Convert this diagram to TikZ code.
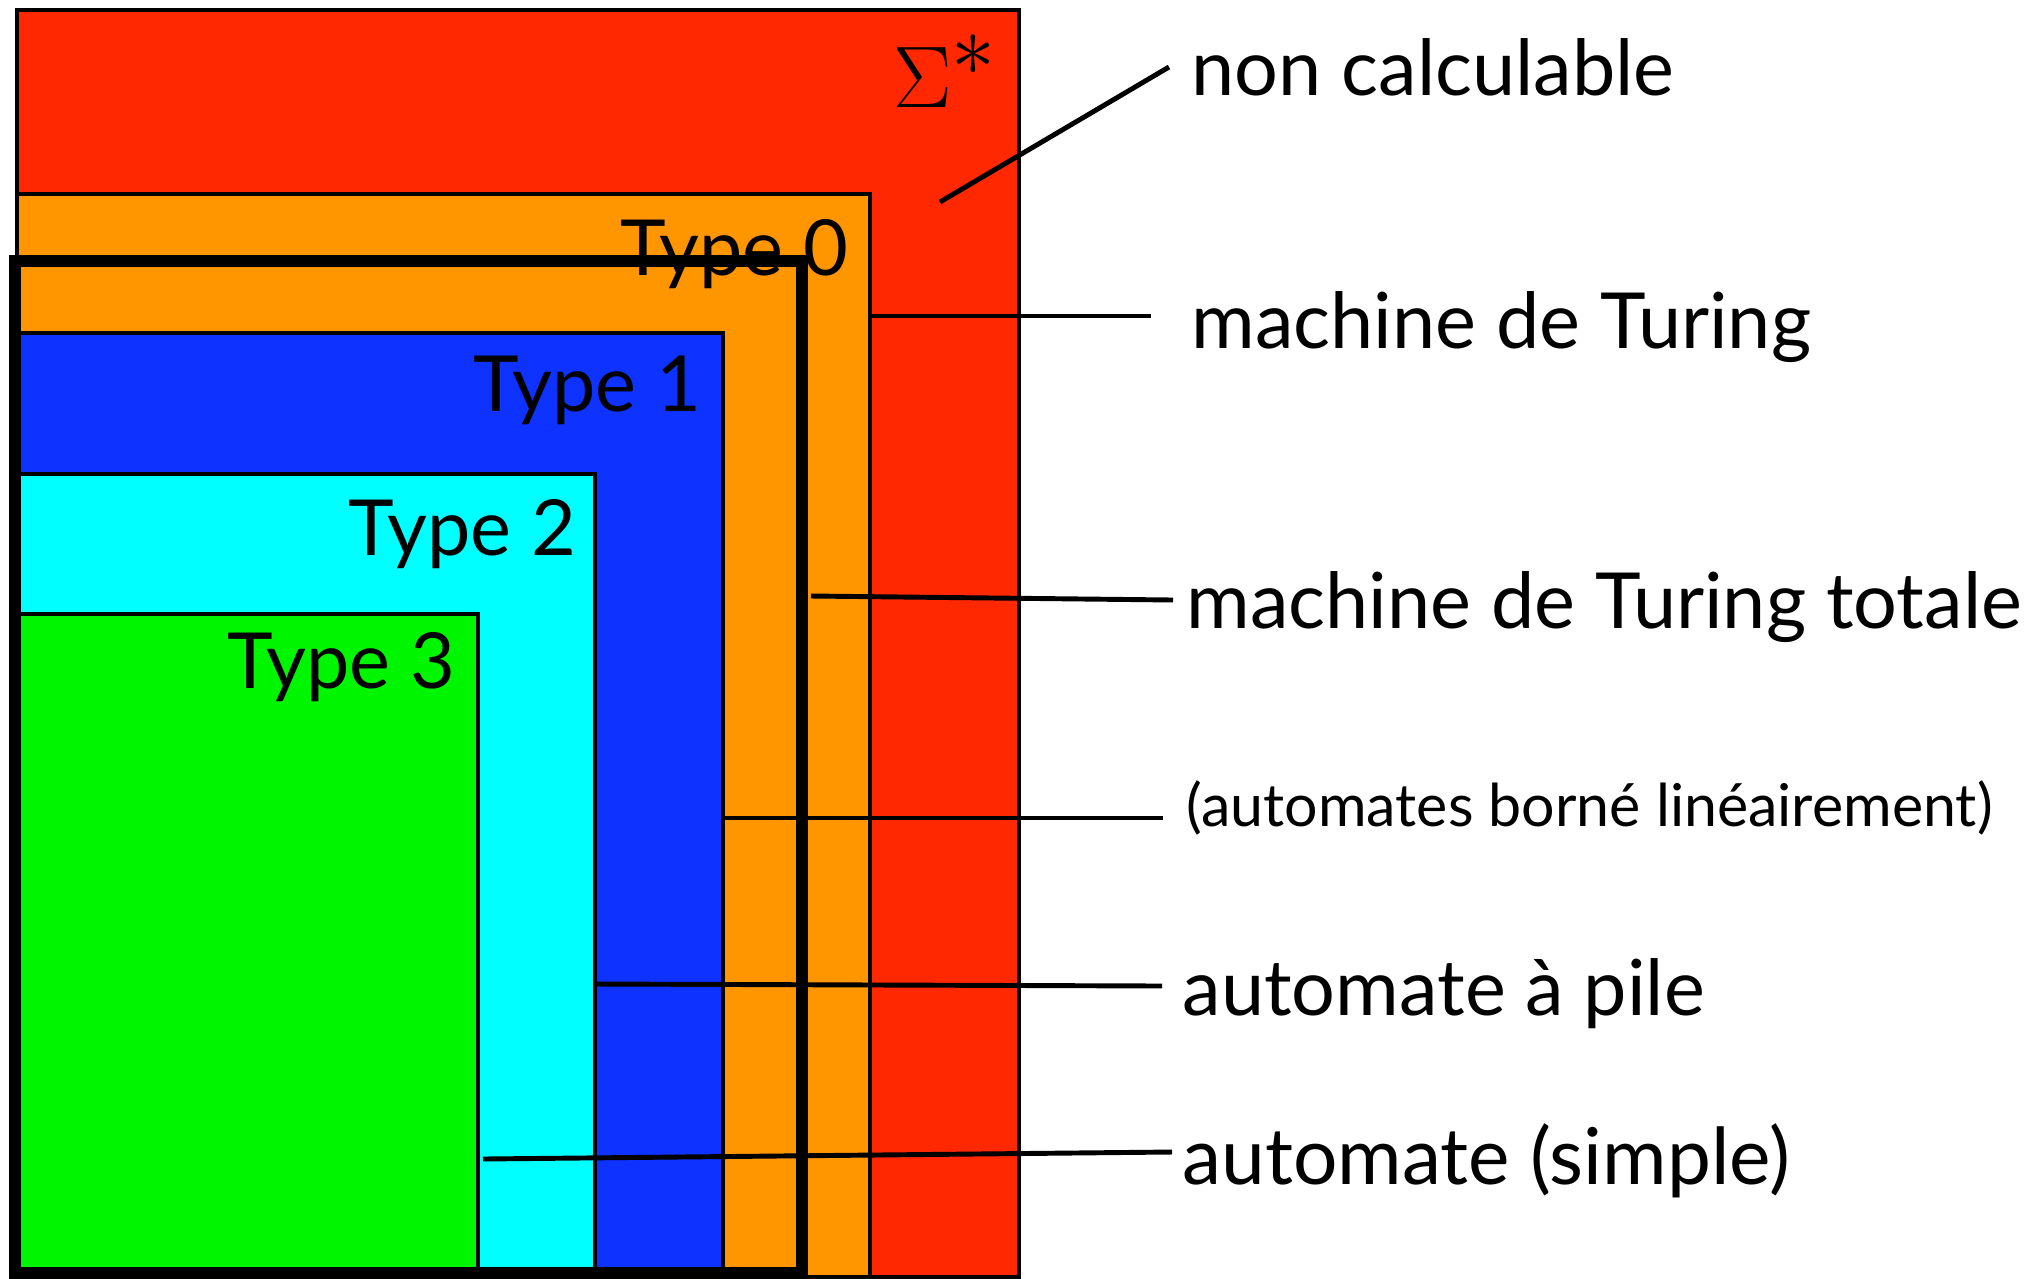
\documentclass[tikz,border=0pt]{standalone}
\usepackage{fontspec}
\setmainfont{Lato}

\definecolor{calcred}{RGB}{255,40,0}
\definecolor{typeorange}{RGB}{255,150,0}
\definecolor{typeblue}{RGB}{14,50,255}
\definecolor{typecyan}{RGB}{0,255,255}
\definecolor{typegreen}{RGB}{0,245,0}

\tikzset{
  classbox/.style={draw=black,line width=1.4pt},
  leader/.style={draw=black,line width=1.4pt},
  typelabel/.style={anchor=base east,inner sep=0pt,font=\fontsize{22}{26}\selectfont},
  classlabel/.style={anchor=base west,inner sep=0pt,font=\fontsize{22}{26}\selectfont},
}

\begin{document}
\begin{tikzpicture}[x=0.01cm,y=-0.01cm]
  \useasboundingbox (0,0) rectangle (2036,1278);

  % Coordinates
  \coordinate (noncalc) at (940,202);
  \coordinate (turing) at (870,316);
  \coordinate (total) at (811,596);
  \coordinate (lba) at (723,818);
  \coordinate (pile) at (595,984);
  \coordinate (simple) at (483,1159);

  % Nested classes
  \draw[classbox,fill=calcred] (17,10) rectangle (1019,1277);
  \draw[classbox,fill=typeorange] (17,194) rectangle (870,1277);
  \draw[classbox,fill=typeblue] (17,333) rectangle (723,1277);
  \draw[classbox,fill=typecyan] (17,474) rectangle (595,1277);
  \draw[classbox,fill=typegreen] (17,614) rectangle (478,1277);

  % Decidable languages
  \draw[line width=3.4pt] (15,261) rectangle (802,1273);

  % Labels inside
  \node[anchor=base east,inner sep=0pt,font=\fontsize{33}{36}\selectfont] (sigma) at (998,107) {$\Sigma^*$};
  \node[typelabel] (type0) at (849,275) {Type 0};
  \node[typelabel] (type1) at (702,411) {Type 1};
  \node[typelabel] (type2) at (577,555) {Type 2};
  \node[typelabel] (type3) at (456,688) {Type 3};

  % Labels outside
  \node[classlabel] (noncalcl) at (1191,95) {non calculable};
  \node[classlabel] (turingl) at (1191,348) {machine de Turing};
  \node[classlabel] (totall) at (1186,628) {machine de Turing totale};
  \node[classlabel,font=\fontsize{16.8}{20}\selectfont] (lbal) at (1186,826) {(automates borné linéairement)};
  \node[classlabel] (pilel) at (1182,1015) {automate à pile};
  \node[classlabel,font=\fontsize{22.3}{26}\selectfont] (simplel) at (1182,1184) {automate (simple)};

  % Lines
  \draw[leader] (noncalc) -- ([shift={(-22,-28)}]noncalcl.base west);
  \draw[leader] (turing) -- ([shift={(-40,-32)}]turingl.base west);
  \draw[leader] (total) -- ([shift={(-13,-28)}]totall.base west);
  \draw[leader] (lba) -- ([shift={(-23,-8)}]lbal.base west);
  \draw[leader] (pile) -- ([shift={(-20,-29)}]pilel.base west);
  \draw[leader] (simple) -- ([shift={(-10,-32)}]simplel.base west);
\end{tikzpicture}
\end{document}
